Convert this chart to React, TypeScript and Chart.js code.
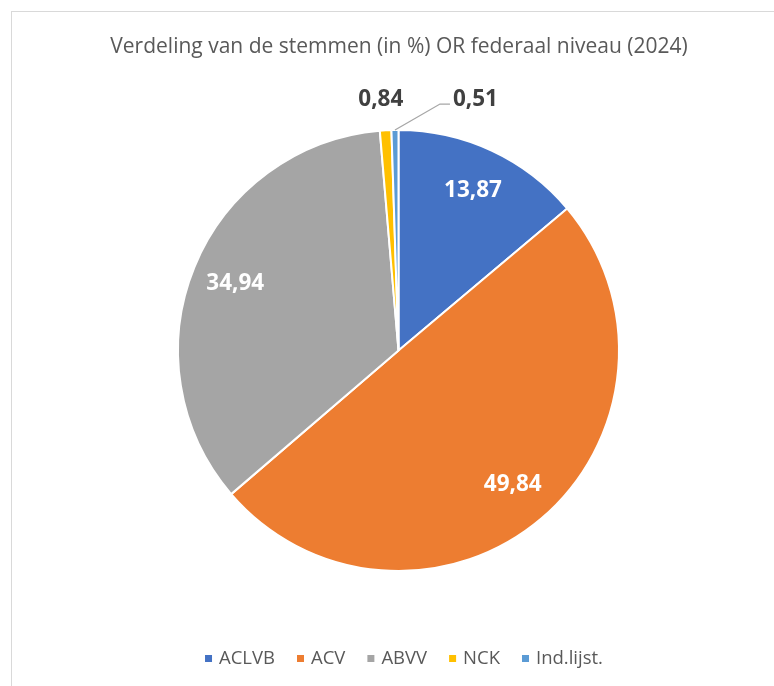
import React, { useEffect, useRef } from "react";
import { Chart, registerables } from "chart.js";

Chart.register(...registerables);

const titleText = "Verdeling van de stemmen (in %) OR federaal niveau (2024)";
const categories = ["ACLVB", "ACV", "ABVV", "NCK", "Ind.lijst."];
const shares = [13.87, 49.84, 34.94, 0.84, 0.51];
const sliceColors = ["#4472C4", "#ED7D31", "#A5A5A5", "#FFC000", "#5B9BD5"];
const labelInside = [true, true, true, false, false];

const FONT = "'Open Sans', 'Liberation Sans', sans-serif";

const fmt = (v: number) => v.toFixed(2).replace(".", ",");

const decorPlugin = {
  id: "decor",
  beforeDraw(chart: any) {
    const ctx = chart.ctx;
    ctx.save();
    ctx.fillStyle = "#ffffff";
    ctx.fillRect(0, 0, chart.width, chart.height);
    ctx.strokeStyle = "#d9d9d9";
    ctx.lineWidth = 1;
    ctx.strokeRect(11.5, 11.5, chart.width + 20, chart.height + 20);
    // title
    ctx.fillStyle = "#595959";
    ctx.font = `21px ${FONT}`;
    ctx.textAlign = "center";
    ctx.textBaseline = "middle";
    ctx.fillText(titleText, 399, 47);
    ctx.restore();
  },
  afterDraw(chart: any) {
    const ctx = chart.ctx;
    const meta = chart.getDatasetMeta(0);
    ctx.save();
    ctx.font = `bold 22.5px ${FONT}`;
    ctx.textBaseline = "middle";
    meta.data.forEach((arc: any, i: number) => {
      const { x, y, outerRadius, startAngle, endAngle } = arc.getProps(
        ["x", "y", "outerRadius", "startAngle", "endAngle"],
        true
      );
      const mid = (startAngle + endAngle) / 2;
      const text = fmt(shares[i]);
      if (labelInside[i]) {
        const r = outerRadius * 0.8;
        ctx.fillStyle = "#ffffff";
        ctx.textAlign = "center";
        ctx.fillText(text, x + Math.cos(mid) * r, y + Math.sin(mid) * r);
      } else if (i === 3) {
        const r = outerRadius + 31;
        ctx.fillStyle = "#404040";
        ctx.textAlign = "center";
        ctx.fillText(text, x + Math.cos(mid) * r - 3, y + Math.sin(mid) * r);
      } else {
        const sx = x + Math.cos(mid) * outerRadius;
        const sy = y + Math.sin(mid) * outerRadius;
        const ex = sx + 45;
        const ey = sy - 26;
        ctx.strokeStyle = "#a6a6a6";
        ctx.lineWidth = 1.3;
        ctx.beginPath();
        ctx.moveTo(sx, sy);
        ctx.lineTo(ex, ey);
        ctx.lineTo(ex + 10, ey);
        ctx.stroke();
        ctx.fillStyle = "#404040";
        ctx.textAlign = "left";
        ctx.fillText(text, ex + 13, ey - 4);
      }
    });
    // legend
    ctx.font = `18.5px ${FONT}`;
    ctx.textAlign = "left";
    const box = 7;
    const gapIn = 7;
    const gapOut = 22;
    const widths = categories.map((c) => ctx.measureText(c).width);
    const total =
      widths.reduce((a, b) => a + b, 0) +
      categories.length * (box + gapIn) +
      (categories.length - 1) * gapOut;
    let lx = 404 - total / 2;
    const ly = 658.5;
    categories.forEach((c, i) => {
      ctx.fillStyle = sliceColors[i];
      ctx.fillRect(lx, ly - box / 2, box, box);
      lx += box + gapIn;
      ctx.fillStyle = "#595959";
      ctx.fillText(c, lx, ly);
      lx += widths[i] + gapOut;
    });
    ctx.restore();
  },
};

export default function App() {
  const ref = useRef<HTMLCanvasElement>(null);
  useEffect(() => {
    document.body.style.margin = "0";
    const chart = new Chart(ref.current!, {
      type: "pie",
      data: {
        labels: categories,
        datasets: [
          {
            data: shares,
            backgroundColor: sliceColors,
            borderColor: "#ffffff",
            borderWidth: 2,
          },
        ],
      },
      options: {
        animation: false,
        responsive: false,
        layout: { padding: { left: 177, right: 154, top: 129, bottom: 114 } },
        plugins: {
          legend: { display: false },
          title: { display: false },
          tooltip: { enabled: false },
        },
      },
      plugins: [decorPlugin],
    });
    return () => chart.destroy();
  }, []);
  return (
    <div style={{ position: "absolute", left: 0, top: 0, width: 774, height: 686 }}>
      <canvas ref={ref} width={774} height={686} />
    </div>
  );
}
